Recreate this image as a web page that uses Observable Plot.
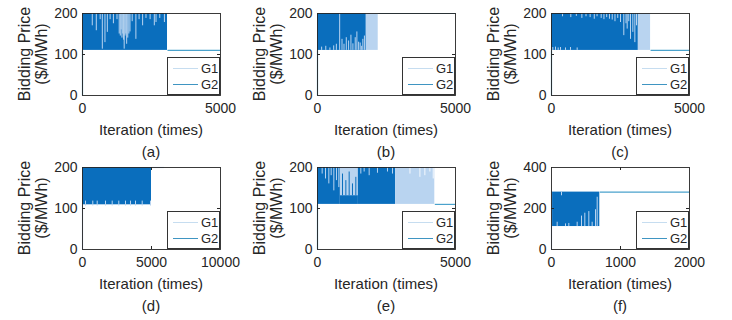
<!DOCTYPE html>
<html><head><meta charset="utf-8">
<script src="https://cdn.jsdelivr.net/npm/d3@7"></script>
<script src="https://cdn.jsdelivr.net/npm/@observablehq/plot@0.6"></script>
<style>
html,body{margin:0;padding:0;background:#fff;}
#fig{position:relative;width:732px;height:320px;overflow:hidden;font-family:"Liberation Sans",Arial,sans-serif;color:#262626;background:#fff;}
#fig svg{position:absolute;overflow:visible;}
.lbl{position:absolute;white-space:nowrap;font-size:15px;line-height:1;}
.leg{position:absolute;box-sizing:border-box;border:1px solid #333;background:#fff;width:53px;height:38px;}
.leg .ln{position:absolute;left:5px;width:25px;height:0;}
.leg .tx{position:absolute;left:33px;font-size:13px;line-height:1;transform:translateY(-50%);}
</style></head><body><div id="fig"></div><script>
// ---------------- data ----------------
const panelIds = ["a", "b", "c", "d", "e", "f"];
const xMax = [5000, 5000, 5000, 10000, 5000, 2000];
const yMax = [200, 200, 200, 200, 200, 400];
const xTickValues = [[0, 5000], [0, 5000], [0, 5000], [0, 5000, 10000], [0, 5000], [0, 1000, 2000]];
const yTickValues = [[0, 100, 200], [0, 100, 200], [0, 100, 200], [0, 100, 200], [0, 100, 200], [0, 200, 400]];
const seriesNames = ["G1", "G2"];
const xLabel = "Iteration (times)";
const yLabelLines = ["Bidding Price", "($/MWh)"];

// dense oscillation envelopes: [panel, series, startIter, endIter, lowPrice, highPrice]
const bands = [
  ["a", "G2", 0, 3080, 110, 200],
  ["b", "G1", 0, 2200, 110, 200],
  ["b", "G2", 0, 1760, 110, 200],
  ["c", "G1", 0, 3590, 110, 200],
  ["c", "G2", 0, 3140, 110, 200],
  ["d", "G2", 0, 5000, 109, 200],
  ["e", "G2", 0, 830, 110, 200],
  ["e", "G1", 830, 1480, 110, 200],
  ["e", "G2", 830, 1480, 110, 131],
  ["e", "G2", 1480, 2830, 110, 200],
  ["e", "G1", 2830, 4250, 110, 200],
  ["f", "G2", 0, 700, 112, 280]
];

// individual excursions visible inside the envelopes: [panel, series, iter, fromPrice, toPrice]
const spikes = [
  ["a","G1",354,200,170],["a","G1",500,200,158],["a","G1",640,200,185],["a","G1",718,200,113],
  ["a","G1",814,200,129],["a","G1",900,200,154],["a","G1",1000,200,185],["a","G1",1120,200,175],
  ["a","G1",1250,200,185],["a","G1",1330,200,150],["a","G1",1370,200,145],["a","G1",1400,200,160],
  ["a","G1",1430,200,140],["a","G1",1460,200,150],["a","G1",1490,200,135],["a","G1",1510,200,113],
  ["a","G1",1540,200,145],["a","G1",1570,200,150],["a","G1",1600,200,125],["a","G1",1640,200,140],
  ["a","G1",1680,200,150],["a","G1",1720,200,155],["a","G1",1800,200,180],["a","G1",1934,200,137],
  ["a","G1",2050,200,185],["a","G1",2178,200,170],["a","G1",2300,200,188],["a","G1",2450,200,185],
  ["a","G1",2602,200,170],["a","G1",2664,200,178],["a","G1",2800,200,188],["a","G1",2968,200,178],
  ["b","G1",150,110,118],["b","G1",300,110,120],["b","G1",450,110,116],["b","G1",587,110,121],
  ["b","G1",683,110,125],["b","G1",803,110,200],["b","G1",888,110,137],["b","G1",960,110,125],
  ["b","G1",1043,110,141],["b","G1",1127,110,133],["b","G1",1211,110,147],["b","G1",1283,110,126],
  ["b","G1",1367,110,141],["b","G1",1427,110,155],["b","G1",1490,110,130],["b","G1",1547,110,128],
  ["b","G1",1600,110,120],["b","G1",1643,110,137],["b","G1",1700,110,145],
  ["c","G1",400,200,192],["c","G1",700,200,190],["c","G1",900,200,193],["c","G1",1100,200,188],
  ["c","G1",1250,200,192],["c","G1",1400,200,190],["c","G1",1550,200,186],["c","G1",1650,200,192],
  ["c","G1",1800,200,188],["c","G1",1900,200,185],["c","G1",2000,200,190],["c","G1",2100,200,186],
  ["c","G1",2200,200,184],["c","G1",2300,200,180],["c","G1",2400,200,188],["c","G1",2500,200,178],
  ["c","G1",2620,200,146],["c","G1",2700,200,175],["c","G1",2742,200,162],["c","G1",2800,200,180],
  ["c","G1",2862,200,137],["c","G1",2947,200,154],["c","G1",3020,200,129],["c","G1",3080,200,170],
  ["c","G1",48,110,117],["c","G1",145,110,118],["c","G1",242,110,116],["c","G1",326,110,117],
  ["c","G1",507,110,116],["c","G1",688,110,117],["c","G1",930,110,116],
  ["d","G1",217,106,118],["d","G1",746,106,118],["d","G1",1065,106,118],["d","G1",1667,106,118],
  ["d","G1",2152,106,118],["d","G1",2630,106,118],["d","G1",3116,106,118],["d","G1",3478,106,118],
  ["d","G1",3841,106,118],["d","G1",4326,106,118],["d","G1",4928,106,118],
  ["e","G1",169,200,184],["e","G1",290,200,172],["e","G1",411,200,160],["e","G1",495,200,180],
  ["e","G1",592,200,143],["e","G1",688,200,168],["e","G1",773,200,151],
  ["e","G2",906,131,184],["e","G2",1027,131,168],["e","G2",1147,131,189],["e","G2",1268,131,160],
  ["e","G2",1389,131,176],
  ["e","G1",1570,200,184],["e","G1",1690,200,189],["e","G1",1872,200,180],["e","G1",2173,200,186],
  ["e","G1",2536,200,189],["e","G1",2717,200,184],
  ["e","W",3350,200,184],["e","W",3710,200,176],["e","W",3890,200,180],["e","W",4072,200,189],
  ["e","W",4193,200,172],
  ["f","G1",82,112,133],["f","G1",145,280,262],["f","G1",203,112,125],["f","G1",251,112,127],
  ["f","G1",372,112,133],["f","G1",435,112,163],["f","G1",483,112,177],["f","G1",541,112,185],
  ["f","G1",589,112,133],["f","G1",638,112,194],["f","G1",662,112,255]
];

// start-up and converged price traces: [panel, series, iter1, price1, iter2, price2]
const traces = [
  ["a","G2",0,0,0,110],["a","G2",3080,110,5000,110],
  ["b","G2",0,0,0,110],["b","G2",2200,200,5000,200],
  ["c","G2",0,0,0,110],["c","G2",3590,110,5000,110],
  ["d","G1",0,0,0,110],["d","G1",5000,200,5900,200],
  ["e","G2",0,0,0,110],["e","G2",4250,110,5000,110],
  ["f","G1",0,0,0,280],["f","G2",700,280,2000,280]
];

// ---------------- styling ----------------
const bandColor = {G1: "#b9d4f0", G2: "#0a6ebd"};
const spikeColor = {G1: "#b9d4f0", G2: "#0a6ebd", W: "#f4f8fd"};
const lineColor = {G1: "#bcd7ee", G2: "#4aa2cc"};
const legendColor = {G1: "#c6ddf0", G2: "#3f95c2"};
const axisColor = "#262626";
const colLeft = [82, 317, 551];
const rowTop = [13, 167];
const FW = 138, FH = 82;
const mL = 40, mR = 26, mT = 6, mB = 26;
const fmt = d3.format("d");

const fig = document.getElementById("fig");
function addLabel(text, cx, cy, rotate, size) {
  const d = document.createElement("div");
  d.className = "lbl";
  d.textContent = text;
  d.style.left = cx + "px";
  d.style.top = cy + "px";
  if (size) d.style.fontSize = size + "px";
  d.style.transform = "translate(-50%,-50%)" + (rotate ? " rotate(-90deg)" : "");
  fig.appendChild(d);
}

panelIds.forEach((id, i) => {
  const fl = colLeft[i % 3], ft = rowTop[Math.floor(i / 3)];
  const bd = bands.filter(b => b[0] === id).map(b => ({s: b[1], x1: b[2], x2: b[3], y1: b[4], y2: b[5]}));
  const sp = spikes.filter(s => s[0] === id).map(s => ({s: s[1], x: s[2], y1: s[3], y2: s[4]}));
  const tr = traces.filter(t => t[0] === id).map(t => ({s: t[1], x1: t[2], y1: t[3], x2: t[4], y2: t[5]}));
  const innerX = xTickValues[i].filter(v => v > 0 && v < xMax[i]);
  const innerY = yTickValues[i].filter(v => v > 0 && v < yMax[i]);
  const bandMarks = bd.map(b => Plot.rect([b], {x1: "x1", x2: "x2", y1: "y1", y2: "y2", fill: bandColor[b.s]}));
  const spikeMarks = ["G1", "G2", "W"].map(s =>
    Plot.ruleX(sp.filter(d => d.s === s), {x: "x", y1: "y1", y2: "y2", stroke: spikeColor[s], strokeWidth: 1}));
  const traceMarks = ["G1", "G2"].map(s =>
    Plot.link(tr.filter(d => d.s === s), {x1: "x1", y1: "y1", x2: "x2", y2: "y2", stroke: lineColor[s], strokeWidth: 1.2}));
  const svg = Plot.plot({
    width: mL + FW + mR, height: mT + FH + mB,
    marginLeft: mL, marginRight: mR, marginTop: mT, marginBottom: mB,
    x: {domain: [0, xMax[i]], ticks: xTickValues[i], tickFormat: fmt, tickSize: 0, tickPadding: 8, label: null},
    y: {domain: [0, yMax[i]], ticks: yTickValues[i], tickFormat: fmt, tickSize: 0, tickPadding: 5, label: null},
    style: {fontSize: "14px", fontFamily: "'Liberation Sans', Arial, sans-serif", color: axisColor, background: "transparent"},
    marks: [
      ...bandMarks,
      ...spikeMarks,
      ...traceMarks,
      Plot.frame({stroke: axisColor, strokeWidth: 0.9}),
      Plot.ruleX(innerX, {stroke: axisColor, insetTop: FH - 3}),
      Plot.ruleX(innerX, {stroke: axisColor, insetBottom: FH - 3}),
      Plot.ruleY(innerY, {stroke: axisColor, insetRight: FW - 3}),
      Plot.ruleY(innerY, {stroke: axisColor, insetLeft: FW - 3}),
      Plot.axisX({ticks: xTickValues[i], tickFormat: fmt, tickSize: 0, tickPadding: 8, label: null}),
      Plot.axisY({ticks: yTickValues[i], tickFormat: fmt, tickSize: 0, tickPadding: 5, label: null})
    ]
  });
  svg.style.left = (fl - mL) + "px";
  svg.style.top = (ft - mT) + "px";
  fig.appendChild(svg);

  // axis titles and caption
  addLabel(yLabelLines[0], fl - 57, ft + FH / 2, true, 16);
  addLabel(yLabelLines[1], fl - 40, ft + FH / 2, true, 16);
  addLabel(xLabel, fl + FW / 2, ft + FH + 34, false, 15);
  addLabel("(" + id + ")", fl + FW / 2, ft + FH + 56, false, 15);

  // legend
  const lg = document.createElement("div");
  lg.className = "leg";
  lg.style.left = (fl + FW - 53) + "px";
  lg.style.top = (ft + FH - 38) + "px";
  seriesNames.forEach((name, k) => {
    const y = 10 + k * 16;
    const ln = document.createElement("div");
    ln.className = "ln";
    ln.style.top = y + "px";
    ln.style.borderTop = "1px solid " + legendColor[name];
    const tx = document.createElement("div");
    tx.className = "tx";
    tx.style.top = y + "px";
    tx.textContent = name;
    lg.appendChild(ln);
    lg.appendChild(tx);
  });
  fig.appendChild(lg);
});
</script></body></html>
